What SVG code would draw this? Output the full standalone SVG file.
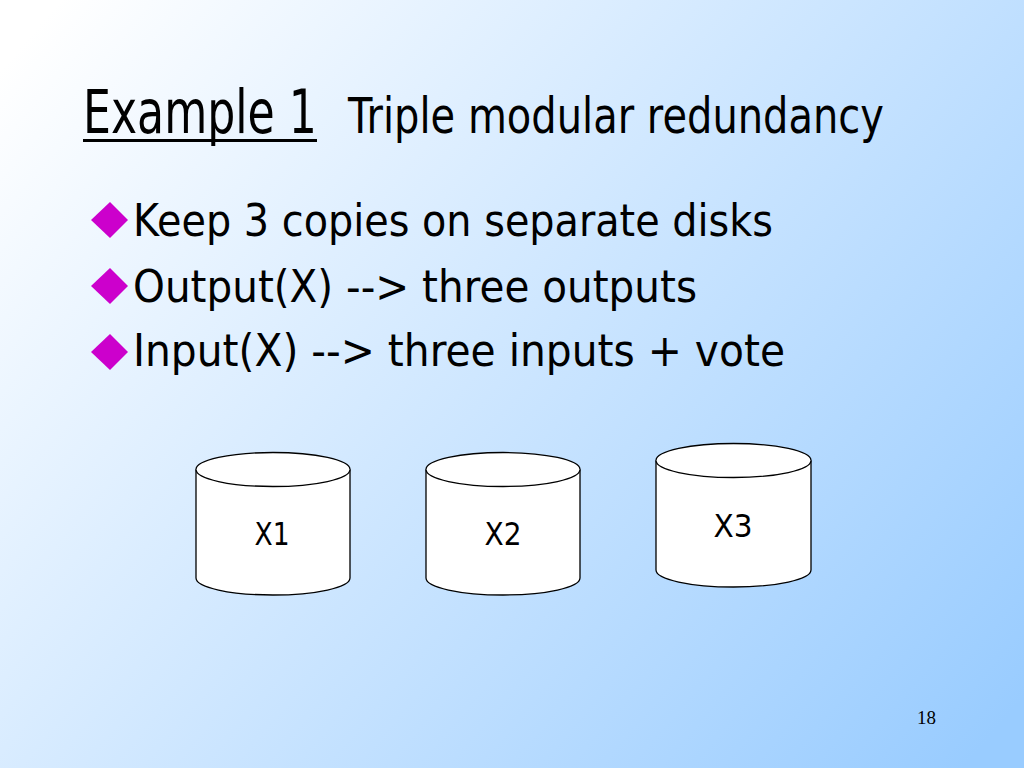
<svg xmlns="http://www.w3.org/2000/svg" width="1024" height="768" viewBox="0 0 1024 768">
<defs>
<linearGradient id="bg" gradientUnits="userSpaceOnUse" x1="60" y1="0" x2="964" y2="768">
<stop offset="0" stop-color="#FFFFFF"/>
<stop offset="1" stop-color="#99CCFF"/>
</linearGradient>
<style>
.t{font-family:"DejaVu Sans","Liberation Sans",sans-serif;fill:#000}
.b{font-size:44px}
.cyl{fill:#FFFFFF;stroke:#000;stroke-width:1.3}
.lbl{font-family:"DejaVu Sans","Liberation Sans",sans-serif;font-size:32px;fill:#000;text-anchor:middle}
.dia{fill:#CC00CC}
</style>
</defs>
<rect width="1024" height="768" fill="url(#bg)"/>
<g id="title">
<text class="t" transform="translate(83,133) scale(0.737,1)" x="0" y="0" font-size="60" textLength="317.5" lengthAdjust="spacingAndGlyphs">Example 1</text>
<rect x="83" y="139" width="234" height="3" fill="#000"/>
<text class="t" transform="translate(348,133) scale(0.806,1)" x="0" y="0" font-size="49" textLength="665" lengthAdjust="spacingAndGlyphs">Triple modular redundancy</text>
</g>
<g id="bullets">
<polygon class="dia" points="110,202 128,220 110,238 91,220"/>
<text class="t b" x="133" y="236" textLength="640" lengthAdjust="spacingAndGlyphs">Keep 3 copies on separate disks</text>
<polygon class="dia" points="110,268 128,286 110,304 91,286"/>
<text class="t b" x="133" y="302" textLength="564" lengthAdjust="spacingAndGlyphs">Output(X) --&gt; three outputs</text>
<polygon class="dia" points="110,334 128,352 110,370 91,352"/>
<text class="t b" x="133" y="366" textLength="652" lengthAdjust="spacingAndGlyphs">Input(X) --&gt; three inputs + vote</text>
</g>
<g id="X1">
<path class="cyl" d="M196,469.5 L196,578 A77,17 0 0 0 350,578 L350,469.5 A77,17 0 0 0 196,469.5 Z"/>
<path class="cyl" d="M196,469.5 A77,17 0 0 0 350,469.5"/>
<text class="lbl" x="272" y="545" textLength="35" lengthAdjust="spacingAndGlyphs">X1</text>
</g>
<g id="X2">
<path class="cyl" d="M426,469.5 L426,578 A77,17 0 0 0 580,578 L580,469.5 A77,17 0 0 0 426,469.5 Z"/>
<path class="cyl" d="M426,469.5 A77,17 0 0 0 580,469.5"/>
<text class="lbl" x="503" y="545" textLength="37" lengthAdjust="spacingAndGlyphs">X2</text>
</g>
<g id="X3">
<path class="cyl" d="M656,460.5 L656,570 A77.5,17 0 0 0 811,570 L811,460.5 A77.5,17 0 0 0 656,460.5 Z"/>
<path class="cyl" d="M656,460.5 A77.5,17 0 0 0 811,460.5"/>
<text class="lbl" x="733" y="537" textLength="39" lengthAdjust="spacingAndGlyphs">X3</text>
</g>
<g id="connectors"></g>
<text x="917" y="724" font-family="'Liberation Serif','Times New Roman',serif" font-size="19" fill="#000">18</text>
</svg>
